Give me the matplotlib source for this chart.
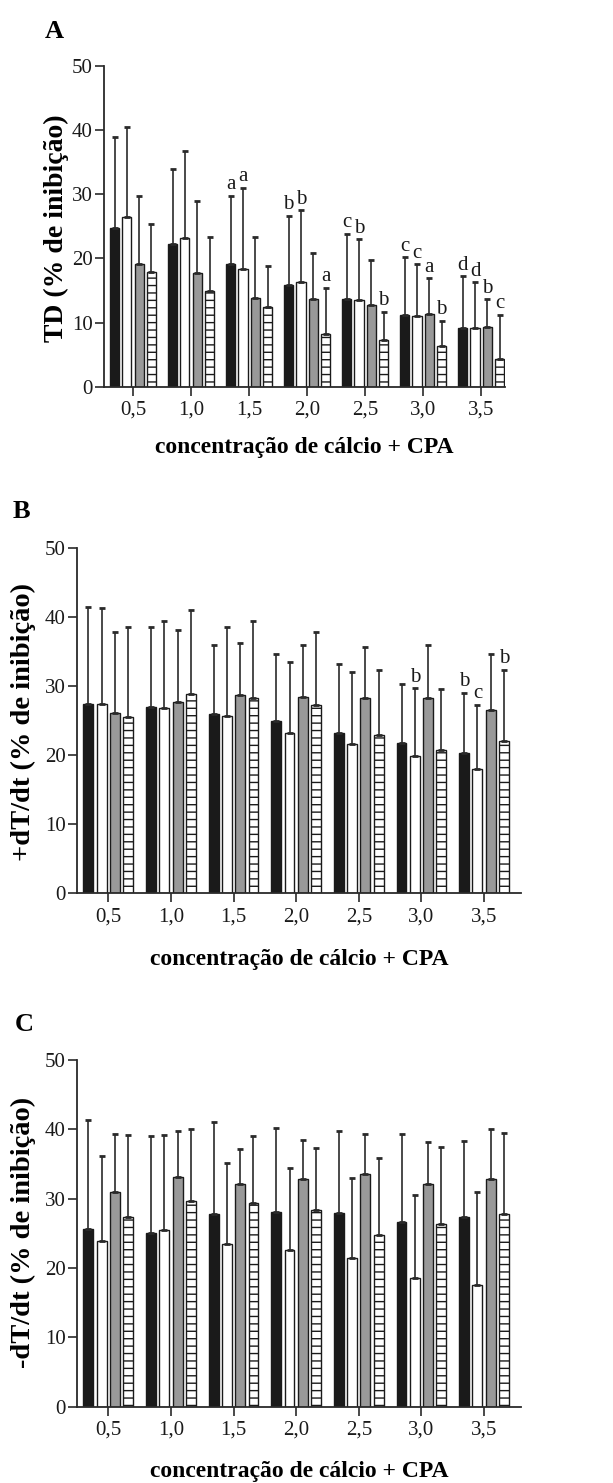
import matplotlib
matplotlib.use('Agg')
import matplotlib.pyplot as plt
import numpy as np

# ---------------- data ----------------
concentrations = ['0,5', '1,0', '1,5', '2,0', '2,5', '3,0', '3,5']
xlabel_text = 'concentração de cálcio + CPA'

# Panel A: TD (% de inibição)
td_black = [24.8, 22.2, 19.2, 15.9, 13.6, 11.2, 9.1]
td_white = [26.5, 23.2, 18.4, 16.4, 13.5, 11.0, 9.2]
td_gray = [19.1, 17.8, 13.9, 13.6, 12.7, 11.35, 9.35]
td_hatch = [17.9, 14.9, 12.4, 8.2, 7.3, 6.4, 4.3]
td_black_sd = [14.2, 11.7, 10.6, 10.7, 10.2, 8.95, 8.1]
td_white_sd = [14.0, 13.6, 12.6, 11.1, 9.5, 8.1, 7.1]
td_gray_sd = [10.7, 11.2, 9.5, 7.2, 7.0, 5.55, 4.25]
td_hatch_sd = [7.5, 8.4, 6.4, 7.2, 4.4, 3.9, 6.9]
# (group index, series index, letter)
td_letters = [(2, 0, 'a'), (2, 1, 'a'),
              (3, 0, 'b'), (3, 1, 'b'), (3, 3, 'a'),
              (4, 0, 'c'), (4, 1, 'b'), (4, 3, 'b'),
              (5, 0, 'c'), (5, 1, 'c'), (5, 2, 'a'), (5, 3, 'b'),
              (6, 0, 'd'), (6, 1, 'd'), (6, 2, 'b'), (6, 3, 'c')]

# Panel B: +dT/dt (% de inibição)
pdt_black = [27.4, 27.05, 26.0, 24.9, 23.3, 21.8, 20.4]
pdt_white = [27.4, 26.9, 25.7, 23.3, 21.6, 19.95, 18.0]
pdt_gray = [26.1, 27.7, 28.7, 28.45, 28.3, 28.3, 26.6]
pdt_hatch = [25.6, 28.9, 28.3, 27.3, 23.0, 20.7, 22.1]
pdt_black_sd = [14.1, 11.55, 10.0, 9.8, 9.9, 8.6, 8.6]
pdt_white_sd = [13.9, 12.6, 12.9, 10.2, 10.5, 9.75, 9.3]
pdt_gray_sd = [11.8, 10.5, 7.6, 7.55, 7.4, 7.7, 8.1]
pdt_hatch_sd = [13.0, 12.1, 11.1, 10.6, 9.3, 8.9, 10.3]
pdt_letters = [(5, 1, 'b'), (6, 0, 'b'), (6, 1, 'c'), (6, 3, 'b')]

# Panel C: -dT/dt (% de inibição)
ndt_black = [25.6, 25.1, 27.8, 28.1, 28.0, 26.7, 27.4]
ndt_white = [23.85, 25.5, 23.5, 22.55, 21.45, 18.6, 17.6]
ndt_gray = [31.0, 33.1, 32.1, 32.8, 33.5, 32.1, 32.8]
ndt_hatch = [27.4, 29.6, 29.4, 28.3, 24.8, 26.4, 27.75]
ndt_black_sd = [15.8, 13.9, 13.2, 12.1, 11.7, 12.7, 10.9]
ndt_white_sd = [12.25, 13.7, 11.7, 11.85, 11.55, 12.0, 13.3]
ndt_gray_sd = [8.4, 6.6, 5.1, 5.6, 5.9, 6.1, 7.2]
ndt_hatch_sd = [11.8, 10.4, 9.6, 9.0, 11.1, 11.1, 11.75]
ndt_letters = []

yticks = [0, 10, 20, 30, 40, 50]

# ---------------- styling ----------------
W, H = 613, 1483
DPI = 89
K = 100.0 / DPI          # keeps pixel sizes equal to a 100-dpi design

plt.rcParams['font.family'] = ['Liberation Serif', 'DejaVu Serif']
plt.rcParams['hatch.linewidth'] = 1.0 * K
plt.rcParams['hatch.color'] = '#1a1a1a'

fig = plt.figure(figsize=(W / DPI, H / DPI), dpi=DPI)


def frac_box(left, right, top, bottom):
    return [left / W, 1 - bottom / H, (right - left) / W, (bottom - top) / H]


styles = [
    dict(color='#1a1a1a', edgecolor='#1a1a1a'),
    dict(color='white', edgecolor='#1a1a1a'),
    dict(color='#999999', edgecolor='#1a1a1a'),
    dict(color='white', edgecolor='#1a1a1a', hatch='--'),
]
offsets = [-0.318, -0.106, 0.106, 0.318]
bar_w = 0.158


def draw_panel(box, xmax, means, sds, letters, ylabel, ylab_size, letter,
               letter_xy, ylab_xy, xlab_y):
    ax = fig.add_axes(frac_box(*box))
    x = np.arange(len(concentrations))
    for i, (m, s) in enumerate(zip(means, sds)):
        ax.bar(x + offsets[i], m, bar_w,
               yerr=[np.zeros(len(m)), s],
               error_kw=dict(ecolor='#2a2a2a', elinewidth=1.2 * K,
                             capsize=2.4 * K, capthick=2.0 * K),
               linewidth=1.0 * K, zorder=2, **styles[i])
    for g, si, t in letters:
        top = means[si][g] + sds[si][g]
        ax.text(g + offsets[si], top + 0.25, t, ha='center', va='bottom',
                fontsize=15 * K, color='#1a1a1a')
    ax.set_xlim(-0.5, xmax)
    ax.set_ylim(0, 50)
    ax.set_xticks(x)
    ax.set_xticklabels(concentrations, fontsize=15 * K)
    ax.set_yticks(yticks)
    ax.set_yticklabels([str(v) for v in yticks], fontsize=15 * K)
    for sp in ['top', 'right']:
        ax.spines[sp].set_visible(False)
    ax.spines['left'].set_bounds(0, 50)
    for sp in ['left', 'bottom']:
        ax.spines[sp].set_linewidth(1.3 * K)
        ax.spines[sp].set_color('#2a2a2a')
    ax.tick_params(axis='both', direction='out', length=6.5 * K,
                   width=1.2 * K, color='#2a2a2a', labelcolor='#1a1a1a')
    ax.tick_params(axis='x', pad=3.5 * K)
    ax.tick_params(axis='y', pad=1.5 * K)
    fig.text(letter_xy[0] / W, 1 - letter_xy[1] / H, letter, fontsize=19 * K,
             fontweight='bold', ha='left', va='baseline')
    fig.text(ylab_xy[0] / W, 1 - ylab_xy[1] / H, ylabel, rotation=90,
             fontsize=ylab_size * K, fontweight='bold', ha='center',
             va='center')
    cx = (box[0] + box[1]) / 2
    fig.text(cx / W, 1 - xlab_y / H, xlabel_text, fontsize=17 * K,
             fontweight='bold', ha='center', va='center')
    return ax


draw_panel((104, 505, 66, 386.7), 6.41,
           [td_black, td_white, td_gray, td_hatch],
           [td_black_sd, td_white_sd, td_gray_sd, td_hatch_sd],
           td_letters, 'TD (% de inibição)', 20, 'A', (45, 38), (56, 228), 448)

draw_panel((77, 521, 548.3, 893.3), 6.59,
           [pdt_black, pdt_white, pdt_gray, pdt_hatch],
           [pdt_black_sd, pdt_white_sd, pdt_gray_sd, pdt_hatch_sd],
           pdt_letters, '+dT/dt (% de inibição)', 20.5, 'B', (13, 518),
           (23, 722), 959)

draw_panel((77, 521, 1060, 1406.7), 6.59,
           [ndt_black, ndt_white, ndt_gray, ndt_hatch],
           [ndt_black_sd, ndt_white_sd, ndt_gray_sd, ndt_hatch_sd],
           ndt_letters, '-dT/dt (% de inibição)', 20.5, 'C', (15, 1031),
           (23, 1232), 1471)

fig.savefig('out.png', dpi=DPI, facecolor='white')
